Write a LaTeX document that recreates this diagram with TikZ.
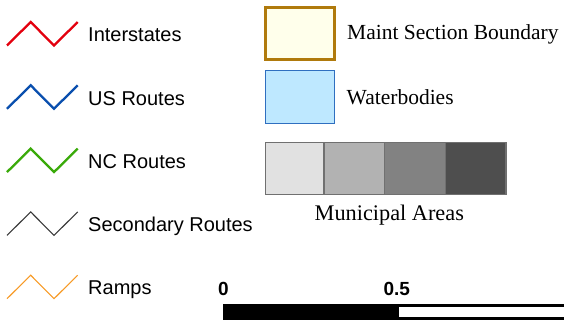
\documentclass[tikz,border=0pt]{standalone}
\usepackage{fontspec}
\setmainfont{Liberation Serif}
\newfontfamily\lsans{Liberation Sans}
\usetikzlibrary{positioning}
\definecolor{interred}{HTML}{E3000E}
\definecolor{usblue}{HTML}{0A4FAE}
\definecolor{ncgreen}{HTML}{3AAA0A}
\definecolor{secgray}{HTML}{3A3A3A}
\definecolor{rampor}{HTML}{F79A26}
\definecolor{maintbrown}{HTML}{B07A0C}
\definecolor{maintfill}{HTML}{FFFFEB}
\definecolor{waterfill}{HTML}{BEE8FF}
\definecolor{waterline}{HTML}{2F6FC0}
\definecolor{muniA}{HTML}{E1E1E1}
\definecolor{muniB}{HTML}{B2B2B2}
\definecolor{muniC}{HTML}{828282}
\definecolor{muniD}{HTML}{4E4E4E}
\definecolor{muniline}{HTML}{707070}
\tikzset{
  sanslabel/.style={anchor=base west, inner sep=0pt, font=\lsans\fontsize{20}{24}\selectfont},
  seriflabel/.style={anchor=base west, inner sep=0pt, font=\fontsize{21.5}{26}\selectfont},
  scalelabel/.style={anchor=base, inner sep=0pt, font=\lsans\bfseries\fontsize{19}{22}\selectfont},
  thickroad/.style={line width=2.3pt, line join=miter},
  thinroad/.style={line width=1.1pt, line join=miter},
}
\begin{document}
\begin{tikzpicture}[x=1pt,y=-1pt]
\useasboundingbox (0,0) rectangle (564,321);
% zigzags
\foreach \c/\s/\i in {interred/thickroad/0, usblue/thickroad/1, ncgreen/thickroad/2, secgray/thinroad/3, rampor/thinroad/4}{
  \pgfmathsetmacro{\yt}{22+63.3*\i}
  \pgfmathsetmacro{\yb}{\yt+23.5}
  \draw[\s, draw=\c] (7,\yb) -- (30.7,\yt) -- (54,\yb) -- (77.7,\yt);
}
\node[sanslabel] (inter) at (88,41.7) {Interstates};
\node[sanslabel] (us) at (88,105) {US Routes};
\node[sanslabel] (nc) at (88,168.3) {NC Routes};
\node[sanslabel] (sec) at (88,231.3) {Secondary Routes};
\node[sanslabel] (ramp) at (88,294.5) {Ramps};
% maint box
\draw[line width=3pt, draw=maintbrown, fill=maintfill] (265.5,7.5) rectangle (334.5,59.5);
\node[seriflabel] (maint) at (347,40) {Maint Section Boundary};
% water
\draw[line width=1.2pt, draw=waterline, fill=waterfill] (265.6,70.6) rectangle (334.4,123.4);
\node[seriflabel] (water) at (346.5,104) {Waterbodies};
% municipal
\fill[muniA] (265,141.7) rectangle (324,195);
\fill[muniB] (324,141.7) rectangle (384.3,195);
\fill[muniC] (384.3,141.7) rectangle (445.7,195);
\fill[muniD] (445.7,141.7) rectangle (506.7,195);
\draw[line width=1.5pt, draw=muniline] (265.7,142.4) rectangle (506,194.3);
\draw[line width=1.2pt, draw=muniline] (324,142.4) -- (324,194.3) (384.3,142.4) -- (384.3,194.3) (445.7,142.4) -- (445.7,194.3);
\node[seriflabel, anchor=base, font=\fontsize{22.3}{26}\selectfont] (muni) at (389.3,220) {Municipal Areas};
% scale bar
\node[scalelabel] (s0) at (223.3,295) {0};
\node[scalelabel] (s05) at (396.7,295) {0.5};
\draw[line width=2.6pt, draw=black, fill=white] (398,305.6) rectangle (575,318.6);
\fill[black] (222.5,304.3) rectangle (398.5,319.9);
\end{tikzpicture}
\end{document}
